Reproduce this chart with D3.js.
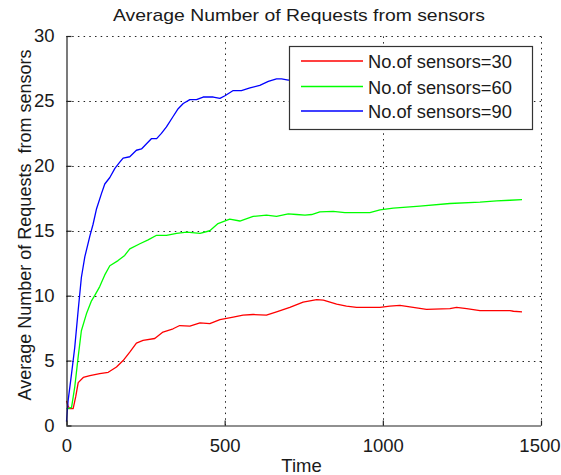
<!DOCTYPE html>
<html>
<head>
<meta charset="utf-8">
<script src="https://cdn.jsdelivr.net/npm/d3@7"></script>
<style>
  html, body { margin: 0; padding: 0; background: #fff; }
  svg { display: block; }
  text { font-family: "Liberation Sans", Arial, Helvetica, sans-serif; fill: #1a1a1a; }
</style>
</head>
<body>
<svg id="chart" width="561" height="475"></svg>
<script>
// Time samples and average request counts for each sensor population
const time30 = [0, 5, 10, 21, 29, 37, 53, 74, 105, 132, 158, 179, 200, 221, 242, 279, 305, 337, 358, 390, 422, 453, 485, 527, 558, 590, 632, 664, 706, 748, 791, 812, 854, 885, 917, 991, 1022, 1054, 1096, 1138, 1212, 1233, 1265, 1307, 1402, 1413, 1440];
const req30 = [1.9, 1.5, 1.3, 1.3, 2.2, 3.3, 3.7, 3.85, 4.0, 4.1, 4.5, 5.0, 5.65, 6.35, 6.55, 6.7, 7.2, 7.45, 7.7, 7.65, 7.9, 7.85, 8.15, 8.35, 8.5, 8.55, 8.5, 8.75, 9.1, 9.5, 9.7, 9.65, 9.35, 9.2, 9.1, 9.1, 9.2, 9.25, 9.1, 8.95, 9.0, 9.1, 9.0, 8.85, 8.85, 8.8, 8.75];

const time60 = [0, 5, 16, 26, 37, 47, 63, 79, 89, 105, 121, 137, 163, 184, 200, 232, 258, 285, 316, 348, 380, 422, 453, 479, 516, 548, 590, 632, 664, 701, 727, 754, 775, 801, 843, 880, 959, 991, 1033, 1117, 1212, 1307, 1360, 1402, 1440];
const req60 = [1.3, 1.3, 1.4, 2.95, 5.3, 7.3, 8.6, 9.6, 10.0, 10.7, 11.6, 12.3, 12.7, 13.1, 13.6, 14.0, 14.3, 14.65, 14.65, 14.8, 14.9, 14.8, 15.0, 15.55, 15.9, 15.75, 16.1, 16.2, 16.1, 16.3, 16.25, 16.2, 16.25, 16.45, 16.5, 16.4, 16.4, 16.6, 16.75, 16.9, 17.1, 17.2, 17.3, 17.35, 17.4];

const time90 = [0, 5, 16, 26, 37, 47, 58, 74, 84, 95, 111, 121, 137, 153, 169, 179, 200, 221, 237, 253, 269, 285, 300, 316, 337, 353, 369, 390, 411, 432, 464, 485, 501, 527, 553, 580, 611, 638, 664, 680, 701, 760, 840, 920, 1000, 1100, 1200, 1300, 1440];
const req90 = [0.3, 1.9, 4.0, 6.0, 8.9, 11.4, 13.0, 14.6, 15.5, 16.7, 17.9, 18.6, 19.1, 19.8, 20.3, 20.6, 20.7, 21.2, 21.3, 21.7, 22.1, 22.1, 22.5, 23.0, 23.8, 24.4, 24.8, 25.1, 25.1, 25.3, 25.3, 25.2, 25.4, 25.8, 25.8, 26.0, 26.2, 26.5, 26.7, 26.7, 26.6, 26.8, 27.0, 27.1, 27.3, 27.4, 27.6, 27.7, 27.9];

const seriesNames = ["No.of sensors=30", "No.of sensors=60", "No.of sensors=90"];
const seriesColors = ["#ff0000", "#00ff00", "#0000ff"];

const xTicks = [0, 500, 1000, 1500];
const yTicks = [0, 5, 10, 15, 20, 25, 30];

const titleText = "Average Number of Requests from sensors";
const xLabelText = "Time";
const yLabelText = "Average Number of Requests  from sensors";

// ---- layout ----
const svg = d3.select("#chart");
const plot = { left: 66.5, right: 541, top: 36, bottom: 425.5 };

const x = d3.scaleLinear().domain([0, 1500]).range([plot.left, plot.right]);
const y = d3.scaleLinear().domain([0, 30]).range([plot.bottom, plot.top]);

const series = [
  { name: seriesNames[0], color: seriesColors[0], pts: time30.map((t, i) => [t, req30[i]]) },
  { name: seriesNames[1], color: seriesColors[1], pts: time60.map((t, i) => [t, req60[i]]) },
  { name: seriesNames[2], color: seriesColors[2], pts: time90.map((t, i) => [t, req90[i]]) }
];

// ---- dotted grid ----
const grid = svg.append("g").attr("stroke", "#222").attr("stroke-width", 1)
  .attr("stroke-dasharray", "1.5,4.2");
grid.selectAll("line.gx").data(xTicks.filter(d => d > 0)).join("line")
  .attr("x1", d => Math.round(x(d)) + 0.5).attr("x2", d => Math.round(x(d)) + 0.5)
  .attr("y1", plot.bottom).attr("y2", plot.top);
grid.selectAll("line.gy").data(yTicks.filter(d => d > 0)).join("line")
  .attr("y1", d => Math.round(y(d)) + 0.5).attr("y2", d => Math.round(y(d)) + 0.5)
  .attr("x1", plot.left).attr("x2", plot.right);

// ---- data lines ----
const line = d3.line().x(d => x(d[0])).y(d => y(d[1]));
svg.append("g").selectAll("path").data(series).join("path")
  .attr("d", d => line(d.pts))
  .attr("fill", "none")
  .attr("stroke", d => d.color)
  .attr("stroke-width", 1.3)
  .attr("stroke-linejoin", "round");

// ---- axes (ticks point inward) ----
const xAxis = d3.axisBottom(x).tickValues(xTicks).tickSize(-5).tickPadding(13).tickFormat(d3.format("d"));
const yAxis = d3.axisLeft(y).tickValues(yTicks).tickSize(-5).tickPadding(12).tickFormat(d3.format("d"));

const gx = svg.append("g").attr("transform", `translate(0,${plot.bottom})`).call(xAxis);
const gy = svg.append("g").attr("transform", `translate(${plot.left},0)`).call(yAxis);

[gx, gy].forEach(g => {
  g.select(".domain").attr("stroke", "#222").attr("stroke-width", 1.2);
  g.selectAll(".tick line").attr("stroke", "#222").attr("stroke-width", 1.2);
  g.selectAll(".tick text").attr("fill", "#1a1a1a")
    .style("font-family", '"Liberation Sans", Arial, sans-serif')
    .style("font-size", "18.5px");
});
gy.select(".domain").attr("d", `M0.5,${plot.bottom}V${plot.top}`);
gx.select(".domain").attr("d", `M${plot.left},0.5H${plot.right}`);
// keep the last x label inside the figure edge
gx.selectAll(".tick text").filter(d => d === 1500).attr("text-anchor", "end").attr("dx", "19px");

// ---- titles ----
svg.append("text")
  .attr("x", 299).attr("y", 21)
  .attr("text-anchor", "middle")
  .attr("textLength", 372).attr("lengthAdjust", "spacingAndGlyphs")
  .style("font-size", "17px")
  .text(titleText);

svg.append("text")
  .attr("x", 301.5).attr("y", 472)
  .attr("text-anchor", "middle")
  .style("font-size", "18.5px")
  .text(xLabelText);

svg.append("text")
  .attr("transform", "translate(31,225) rotate(-90)")
  .attr("text-anchor", "middle")
  .style("font-size", "18px")
  .style("white-space", "pre")
  .text(yLabelText);

// ---- legend ----
const legend = svg.append("g");
legend.append("rect")
  .attr("x", 289.5).attr("y", 46.5).attr("width", 243).attr("height", 83)
  .attr("fill", "#fff").attr("stroke", "#333").attr("stroke-width", 1.2);
const rowY = [61, 86.5, 111];
const items = legend.selectAll("g.item").data(series).join("g")
  .attr("transform", (d, i) => `translate(0,${rowY[i]})`);
items.append("line")
  .attr("x1", 301).attr("x2", 363).attr("y1", 0).attr("y2", 0)
  .attr("stroke", d => d.color).attr("stroke-width", 1.3);
items.append("text")
  .attr("x", 368).attr("y", 7)
  .style("font-size", "18.3px")
  .text(d => d.name);
</script>
</body>
</html>
